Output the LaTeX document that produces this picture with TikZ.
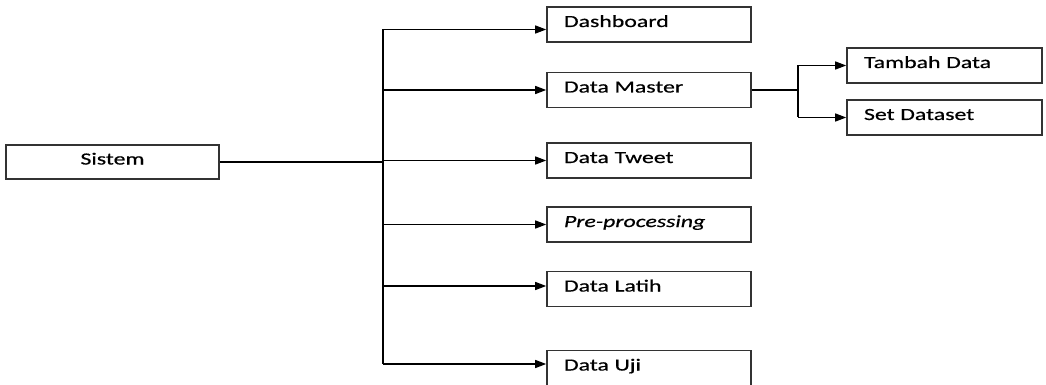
\documentclass[tikz,border=0pt]{standalone}
\usepackage{fontspec}
\setmainfont{Carlito}[FakeStretch=1.4,FakeBold=0.6]
\usetikzlibrary{arrows.meta}
\begin{document}
\begin{tikzpicture}[x=1pt,y=-1pt,
  box/.style={draw=black!80, line width=1.6pt, minimum height=35pt,
    inner ysep=0pt, inner xsep=17pt, text width=170pt, align=left,
    text height=10pt, text depth=5pt, font=\fontsize{17}{20}\selectfont},
  subbox/.style={box, text width=161pt},
  rootbox/.style={box, text width=179pt, align=center, minimum height=34pt},
  conn/.style={draw=black, line width=1.4pt},
  arr/.style={conn, -{Triangle[length=11pt,width=8pt]}}]
\useasboundingbox (0,0) rectangle (1046,385);
\node[rootbox] (sistem) at (112.5,162) {Sistem};
\node[box] (dash) at (649,24.5) {Dashboard};
\node[box] (master) at (649,90) {Data Master};
\node[box] (tweet) at (649,160.5) {Data Tweet};
\node[box] (pre) at (649,224.5) {\itshape Pre-processing};
\node[box] (latih) at (649,289) {Data Latih};
\node[box] (uji) at (649,368) {Data Uji};
\node[subbox] (tambah) at (944.5,65.5) {Tambah Data};
\node[subbox] (set) at (944.5,117.5) {Set Dataset};
\coordinate (trunk) at (383,162);
\coordinate (sub) at (798,90);
\coordinate (dashin) at ([yshift=-5pt]dash.west);
\coordinate (ujiin) at ([yshift=4pt]uji.west);
\coordinate (latihin) at ([yshift=3pt]latih.west);
\draw[conn] (sistem.east) -- (trunk);
\draw[conn] (trunk |- dashin) -- (trunk |- ujiin);
\foreach \n in {dashin,master.west,tweet.west,pre.west,latihin,ujiin}
  \draw[arr] (trunk |- \n) -- (\n);
\draw[conn] (master.east) -- (sub);
\draw[conn] (sub |- tambah.west) -- (sub |- set.west);
\foreach \n in {tambah,set}
  \draw[arr] (sub |- \n.west) -- (\n.west);
\end{tikzpicture}
\end{document}
